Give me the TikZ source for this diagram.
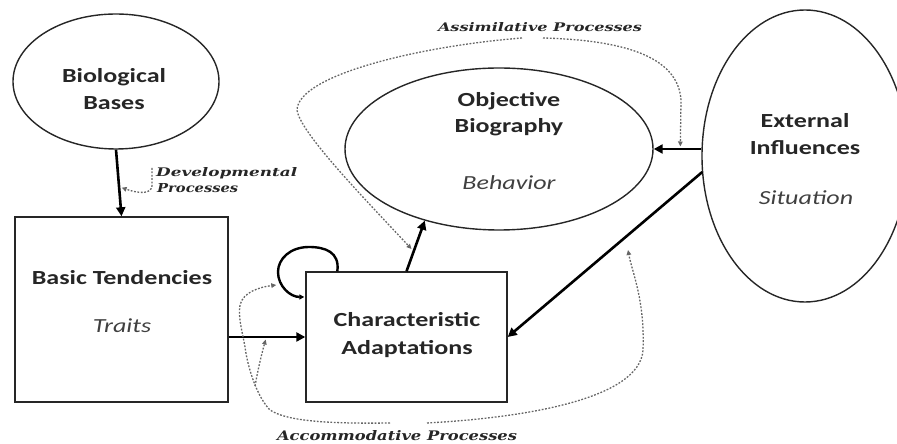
\documentclass[tikz,border=0pt]{standalone}
\usepackage{fontspec}
\setmainfont{Carlito}
\newfontfamily\procfont{DejaVu Serif}
\usetikzlibrary{arrows.meta,calc,shapes.geometric}
\newcommand{\widetxt}[1]{\scalebox{1.3}[1]{#1}}
\begin{document}
\begin{tikzpicture}[x=1pt,y=1pt,
  shapeline/.style={draw=black!85, line width=1.4pt},
  ell/.style={shapeline, ellipse, inner sep=0pt},
  boxnode/.style={shapeline, rectangle, inner sep=0pt},
  mainlbl/.style={font=\fontsize{20}{24}\selectfont\bfseries, text=black!85, anchor=base, inner sep=0pt},
  sublbl/.style={font=\fontsize{20}{24}\selectfont\itshape, text=black!75, anchor=base, inner sep=0pt},
  proclbl/.style={font=\procfont\bfseries\itshape, text=black!85, anchor=base, inner sep=0pt},
  heavy/.style={draw=black, line width=2.6pt, -{Triangle[length=9pt,width=9pt]}},
  loopline/.style={draw=black, line width=2.4pt, -{Triangle[length=5pt,width=5pt]}},
  dots/.style={draw=black!60, line width=1.3pt, dash pattern=on 1.8pt off 1.6pt, -{Triangle[length=5pt,width=4.5pt]}},
]
\useasboundingbox (0,0) rectangle (897,444);

% shapes
\node[ell, minimum width=206pt, minimum height=135pt] (bio) at (116,362.5) {};
\node[boxnode, minimum width=213pt, minimum height=185pt] (bt) at (121.5,134.5) {};
\node[boxnode, minimum width=201pt, minimum height=130pt] (ca) at (406.5,107) {};
\node[ell, minimum width=308pt, minimum height=162pt] (ob) at (499,295) {};
\node[ell, minimum width=206pt, minimum height=292pt] (ext) at (805,288) {};

% labels
\node[mainlbl] (bioA) at (114,361) {\widetxt{Biological}};
\node[mainlbl] (bioB) at (114,334) {\widetxt{Bases}};
\node[mainlbl] (btA) at (122,159) {\widetxt{Basic Tendencies}};
\node[sublbl] (btB) at (122,111) {\widetxt{Traits}};
\node[mainlbl] (caA) at (407,117) {\widetxt{Characteristic}};
\node[mainlbl] (caB) at (407,89) {\widetxt{Adaptations}};
\node[mainlbl] (obA) at (509,337) {\widetxt{Objective}};
\node[mainlbl] (obB) at (509,311) {\widetxt{Biography}};
\node[sublbl] (obC) at (509,254) {\widetxt{Behavior}};
\node[mainlbl] (extA) at (805,316) {\widetxt{External}};
\node[mainlbl] (extB) at (805,289) {\widetxt{Influences}};
\node[sublbl] (extC) at (806,239) {\widetxt{Situation}};

\node[proclbl] (assim) at (540,412) {\resizebox{204pt}{9pt}{Assimilative Processes}};
\node[proclbl] (accom) at (397,3.5) {\resizebox{240pt}{10pt}{Accommodative Processes}};
\node[proclbl, anchor=base west] (devA) at (156,267) {\resizebox{141pt}{9pt}{Developmental}};
\node[proclbl, anchor=base west] (devB) at (157,251) {\resizebox{81pt}{9pt}{Processes}};

% heavy arrows
\draw[heavy] (bio.south) -- (bt.north);
\draw[heavy] (bt.east |- ca.west) -- (ca.west);
\draw[heavy] (ext.west |- ob.east) -- (ob.east);
\coordinate (extlow) at ($(ext.west)+(1,-16)$);
\draw[heavy] (extlow) -- (ca.east);
\draw[heavy] (ca.north) -- (ob.224);

% self loop
\draw[loopline] ($(ca.north west)+(32,0)$) .. controls (340,192) and (325,197) .. (309,197)
  .. controls (290,197) and (278,185) .. (278,172)
  .. controls (278,158) and (290,147) .. ($(ca.west)+(-1,40)$);

% assimilative processes
\coordinate (assimL) at (522,406);
\coordinate (assimR) at (543,406);
\coordinate (assimT) at ($(ca.north)!0.44!(ob.224)+(-3,0)$);
\coordinate (assimB) at ($(ext.west |- ob.east)+(-21,2.5)$);
\draw[dots] (assimL) .. controls (420,398) and (298,369) .. (297,334)
  .. controls (300,312) and (360,250) .. (assimT);
\draw[dots] (assimR) .. controls (620,404) and (678,389) .. (681,344) -- (assimB);

% accommodative processes
\coordinate (accR) at (427,21);
\coordinate (accL) at (390,21);
\coordinate (accT) at (628,194);
\coordinate (loopT) at ($(ca.west)+(-29,52)$);
\coordinate (accJ) at (255,58);
\coordinate (accU) at ($(bt.east |- ca.west)+(37,-2.5)$);
\draw[dots] (accR) .. controls (520,26) and (640,44) .. (643,94)
  .. controls (645,144) and (632,172) .. (accT);
\draw[dots] (accL) .. controls (320,20) and (285,24) .. (270,34)
  .. controls (258,46) and (248,74) .. (245,97)
  .. controls (242,114) and (238,126) .. (240,139)
  .. controls (243,152) and (260,157) .. (loopT);
\draw[dots] (accJ) .. controls (259,80) and (263,95) .. (accU);

% developmental processes
\coordinate (devS) at (152,276);
\coordinate (devT) at ($(bio.south)!0.57!(bt.north)+(2.5,0)$);
\draw[dots] (devS) -- (152,258) .. controls (151,250) and (140,250) .. (devT);
\end{tikzpicture}
\end{document}
